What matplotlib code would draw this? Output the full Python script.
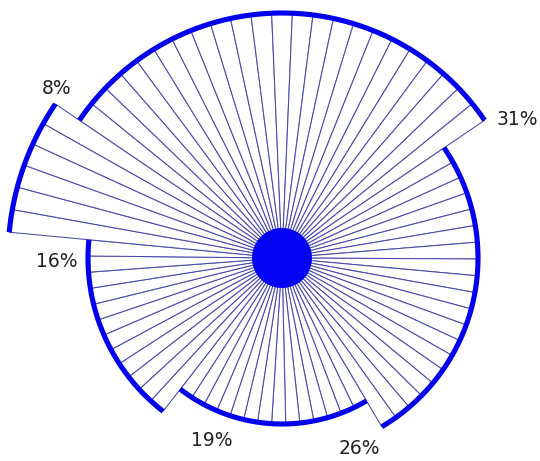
import numpy as np
import matplotlib
matplotlib.use("Agg")
import matplotlib.pyplot as plt

# ==============================
# DATA
# ==============================

labels = ["31%", "26%", "19%", "16%", "8%"]
shares = [31, 26, 19, 16, 8]           # percent of the circle
radii = [245, 196, 166, 194, 274]      # outer radius of each slice

# label placement (math angle in degrees, radius)
label_pos = [(30.5, 273), (-67.8, 206), (-111.0, 195), (181.0, 225), (143.0, 282)]

# ==============================
# STYLE
# ==============================

start_deg = 145.8      # where the first slice begins (math angle)
spoke_deg = 4.85       # approx spacing between spokes
hub_r = 30
rmax = 290

spoke_col = "#4a4aae"
arc_col = "#0000ee"
hub_col = "#0303f2"

W, H = 540, 461
cx, cy = 282, 461 - 258   # centre in pixels (from bottom-left)

fig = plt.figure(figsize=(W / 100, H / 100), dpi=100)
ax = fig.add_axes([(cx - rmax) / W, (cy - rmax) / H, 2 * rmax / W, 2 * rmax / H],
                  projection="polar")
ax.set_theta_offset(np.deg2rad(start_deg))
ax.set_theta_direction(-1)
ax.set_ylim(0, rmax)
ax.set_axis_off()

# ==============================
# SLICES
# ==============================

theta0 = 0.0
for share, r in zip(shares, radii):
    span = np.deg2rad(share * 3.6)
    n = max(1, int(round(share * 3.6 / spoke_deg)))
    w = span / n
    th = theta0 + w * (np.arange(n) + 0.5)
    ax.bar(th, r, width=w, bottom=0, color="white", edgecolor=spoke_col,
           linewidth=0.75, zorder=2)
    arc = np.linspace(theta0, theta0 + span, 200)
    ax.plot(arc, np.full_like(arc, r), color=arc_col, lw=3.7,
            solid_capstyle="butt", zorder=3)
    theta0 += span

# hub
ax.bar(0, hub_r, width=2 * np.pi, bottom=0, color=hub_col, edgecolor=hub_col,
       linewidth=0, zorder=4)

# labels
for lab, (a, r) in zip(labels, label_pos):
    th = np.deg2rad(start_deg - a)
    ax.text(th, r, lab, ha="center", va="center", fontsize=13.5,
            color="#222222", family="DejaVu Sans", zorder=5)

fig.savefig("out.png", dpi=100)
